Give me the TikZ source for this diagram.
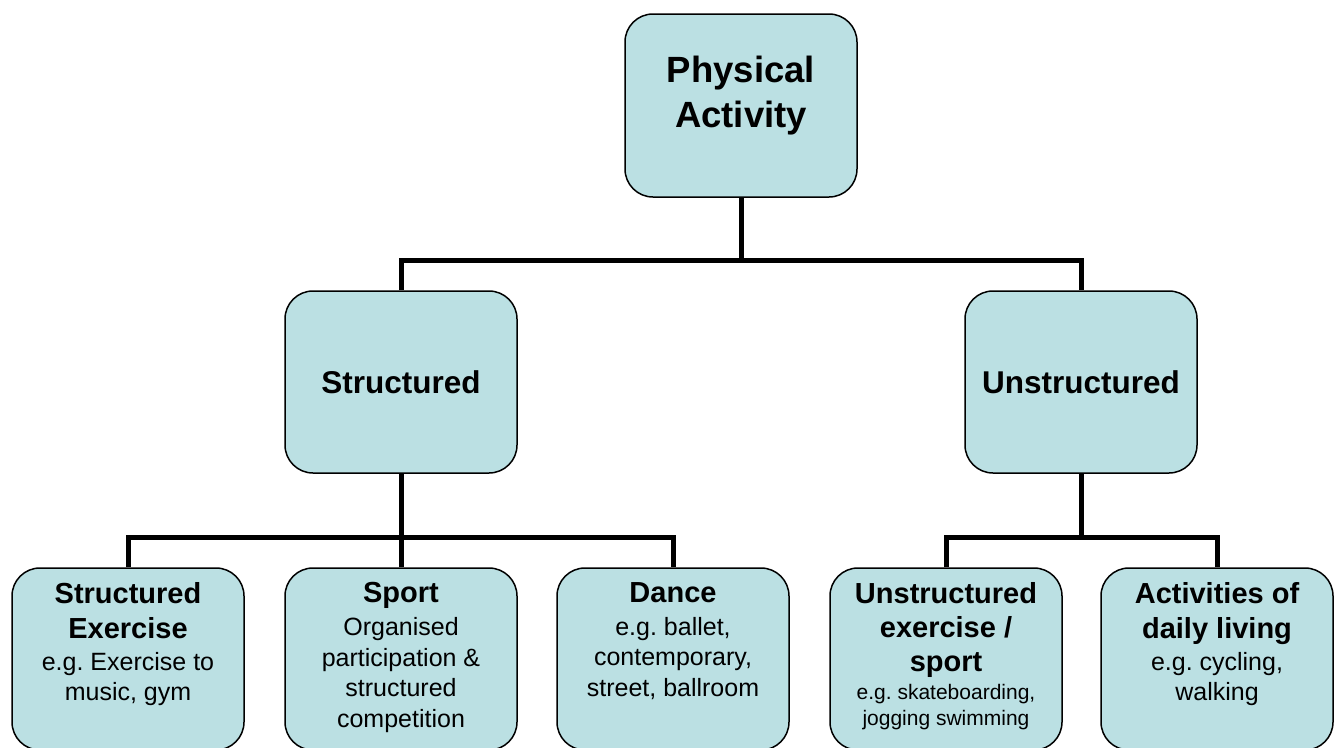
\documentclass[tikz,border=0pt]{standalone}
\usepackage{fontspec}
\setmainfont{Liberation Sans}
\usetikzlibrary{positioning}
\frenchspacing
\definecolor{boxblue}{RGB}{187,224,227}
\tikzset{box/.style={draw,fill=boxblue,line width=1.5pt,rounded corners=28pt,minimum width=232pt,minimum height=182pt,inner sep=0pt},
link/.style={line width=5pt},
txt/.style={align=center,inner sep=0pt,font=\fontsize{25}{30.5}\selectfont}}
\newcommand{\hd}{\fontsize{29}{34.5}\selectfont\bfseries}
\begin{document}
\begin{tikzpicture}[x=1pt,y=-1pt]
\useasboundingbox (0,0) rectangle (1341,747);
% boxes
\node[box,minimum height=183pt](pa) at (741,105.5){};
\node[box,font=\fontsize{31.5}{38}\selectfont\bfseries](st) at (401,382){Structured};
\node[box,font=\fontsize{31.5}{38}\selectfont\bfseries](un) at (1081,382){Unstructured};
\node[box](se) at (128,659){};
\node[box](sp) at (401,659){};
\node[box](da) at (673,659){};
\node[box](ue) at (946,659){};
\node[box](ad) at (1217,659){};
% texts
\node[txt,below=43pt of pa.north,font=\fontsize{36.5}{45}\selectfont\bfseries](pat){Physical\\Activity};
\node[txt,below=15pt of se.north](set){\hd Structured\\[4.5pt]\hd Exercise\\[1.5pt]e.g. Exercise to\\music, gym};
\node[txt,below=15pt of sp.north](spt){\hd Sport\\[2.5pt]Organised\\participation \&\\structured\\competition};
\node[txt,below=15pt of da.north](dat){\hd Dance\\[2.5pt]e.g. ballet,\\contemporary,\\street, ballroom};
\node[txt,below=15pt of ue.north,font=\fontsize{21}{26}\selectfont](uet){\hd Unstructured\\[8pt]\hd exercise /\\[8pt]\hd sport\\[2pt]e.g. skateboarding,\\jogging swimming};
\node[txt,below=15pt of ad.north](adt){\hd Activities of\\[4.5pt]\hd daily living\\[1.5pt]e.g. cycling,\\walking};
% links
\coordinate(j1) at (741,260);
\coordinate(j2) at (401,537);
\coordinate(j3) at (1081,537);
\draw[link](pa.south)--(j1);
\draw[link](st.north)|-(j1)-|(un.north);
\draw[link](st.south)--(sp.north);
\draw[link](se.north)|-(j2)-|(da.north);
\draw[link](un.south)--(j3);
\draw[link](ue.north)|-(j3)-|(ad.north);
\end{tikzpicture}
\end{document}
